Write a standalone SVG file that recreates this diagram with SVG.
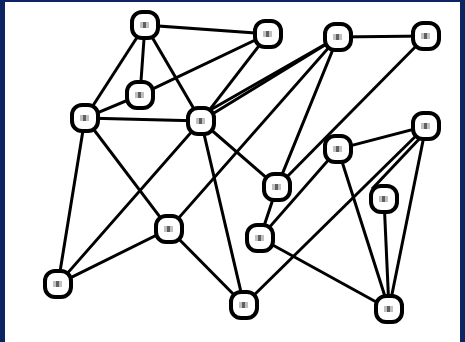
<svg xmlns="http://www.w3.org/2000/svg" width="465" height="342" viewBox="0 0 465 342">
<defs>
<style>
.e{stroke:#000;stroke-width:3;fill:none;stroke-linecap:square}
.b{fill:#fff;stroke:#000;stroke-width:4}
.m1{fill:#c0c0c0}
.m2{fill:#606060}
</style>
<g id="nd">
<rect class="b" x="-13" y="-13" width="26" height="26" rx="10"/>
<rect class="m1" x="-5" y="-3" width="9" height="6"/>
<rect class="m2" x="-2" y="-3" width="3" height="6"/>
</g>
</defs>
<rect x="0" y="0" width="465" height="342" fill="#0c2461"/>
<rect x="5" y="2" width="455" height="340" fill="#fff"/>
<g id="edges">
<line class="e" x1="145" y1="25" x2="268" y2="34"/>
<line class="e" x1="145" y1="25" x2="140" y2="95"/>
<line class="e" x1="145" y1="25" x2="85" y2="118"/>
<line class="e" x1="145" y1="25" x2="201" y2="121"/>
<line class="e" x1="268" y1="34" x2="140" y2="95"/>
<line class="e" x1="140" y1="95" x2="85" y2="118"/>
<line class="e" x1="268" y1="34" x2="201" y2="121"/>
<line class="e" x1="338" y1="37" x2="426" y2="36"/>
<line class="e" x1="338" y1="37" x2="201" y2="121"/>
<line class="e" x1="338" y1="37" x2="212" y2="109"/>
<line class="e" x1="338" y1="37" x2="169" y2="229"/>
<line class="e" x1="338" y1="37" x2="277" y2="187"/>
<line class="e" x1="426" y1="36" x2="277" y2="187"/>
<line class="e" x1="85" y1="118" x2="201" y2="121"/>
<line class="e" x1="85" y1="118" x2="169" y2="229"/>
<line class="e" x1="85" y1="118" x2="58" y2="284"/>
<line class="e" x1="201" y1="121" x2="58" y2="284"/>
<line class="e" x1="201" y1="121" x2="277" y2="187"/>
<line class="e" x1="201" y1="121" x2="244" y2="305"/>
<line class="e" x1="169" y1="229" x2="58" y2="284"/>
<line class="e" x1="169" y1="229" x2="244" y2="305"/>
<line class="e" x1="426" y1="126" x2="338" y2="149"/>
<line class="e" x1="426" y1="126" x2="244" y2="305"/>
<line class="e" x1="422" y1="136" x2="373" y2="188"/>
<line class="e" x1="426" y1="126" x2="389" y2="309"/>
<line class="e" x1="338" y1="149" x2="260" y2="238"/>
<line class="e" x1="338" y1="149" x2="389" y2="309"/>
<line class="e" x1="277" y1="187" x2="260" y2="238"/>
<line class="e" x1="260" y1="238" x2="389" y2="309"/>
<line class="e" x1="384" y1="199" x2="389" y2="309"/>
</g>
<g id="n1"><use href="#nd" x="145" y="25"/></g>
<g id="n2"><use href="#nd" x="268" y="34"/></g>
<g id="n3"><use href="#nd" x="338" y="37"/></g>
<g id="n4"><use href="#nd" x="426" y="36"/></g>
<g id="n5"><use href="#nd" x="140" y="95"/></g>
<g id="n6"><use href="#nd" x="85" y="118"/></g>
<g id="n7"><use href="#nd" x="201" y="121"/></g>
<g id="n8"><use href="#nd" x="426" y="126"/></g>
<g id="n9"><use href="#nd" x="338" y="149"/></g>
<g id="n10"><use href="#nd" x="277" y="187"/></g>
<g id="n11"><use href="#nd" x="384" y="199"/></g>
<g id="n12"><use href="#nd" x="169" y="229"/></g>
<g id="n13"><use href="#nd" x="260" y="238"/></g>
<g id="n14"><use href="#nd" x="58" y="284"/></g>
<g id="n15"><use href="#nd" x="244" y="305"/></g>
<g id="n16"><use href="#nd" x="389" y="309"/></g>
</svg>
